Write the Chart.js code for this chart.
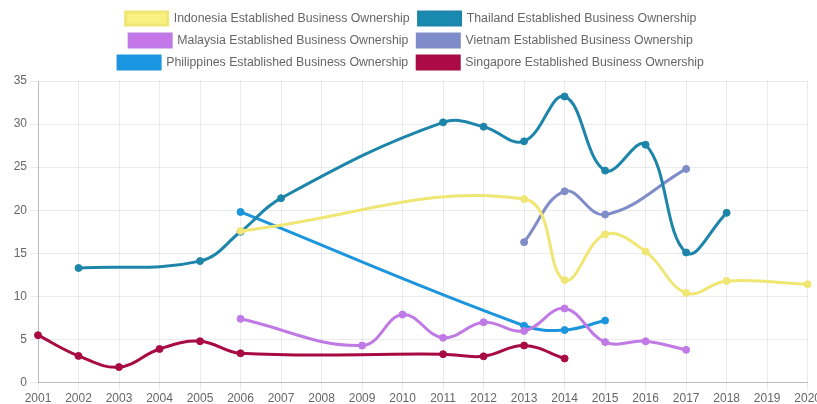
<!DOCTYPE html>
<html>
<head>
<meta charset="utf-8">
<script src="https://cdn.jsdelivr.net/npm/chart.js@4"></script>
<style>
    html, body { margin: 0; padding: 0; background: #fff; overflow: hidden; }
    #wrap { width: 822px; height: 407px; }
</style>
</head>
<body>
<div id="wrap"><canvas id="lineChart"></canvas></div>
<script>
// Established business ownership rate (%) by year
const years = ['2001', '2002', '2003', '2004', '2005', '2006', '2007', '2008', '2009', '2010',
               '2011', '2012', '2013', '2014', '2015', '2016', '2017', '2018', '2019', '2020'];

const indonesia   = [null, null, null, null, null, 17.6, null, null, null, null, null, null, 21.3, 11.9, 17.2, 15.2, 10.4, 11.8, null, 11.4];
const thailand    = [null, 13.3, null, null, 14.1, 17.5, 21.4, null, null, null, 30.2, 29.7, 28.0, 33.2, 24.6, 27.6, 15.1, 19.7, null, null];
const malaysia    = [null, null, null, null, null, 7.4, null, null, 4.3, 7.9, 5.2, 7.0, 6.0, 8.6, 4.7, 4.8, 3.8, null, null, null];
const vietnam     = [null, null, null, null, null, null, null, null, null, null, null, null, 16.3, 22.2, 19.5, null, 24.8, null, null, null];
const philippines = [null, null, null, null, null, 19.8, null, null, null, null, null, null, 6.6, 6.1, 7.2, null, null, null, null, null];
const singapore   = [5.5, 3.1, 1.8, 3.9, 4.8, 3.4, null, null, null, null, 3.3, 3.05, 4.3, 2.8, null, null, null, null, null, null];

Chart.defaults.font.family = '"Helvetica Neue", Helvetica, Arial, "Liberation Sans", sans-serif';
Chart.defaults.font.size = 12;
Chart.defaults.color = '#666';

function series(label, data, fill, line) {
    return {
        label: label,
        data: data,
        backgroundColor: fill,
        borderColor: line,
        pointBackgroundColor: line,
        pointBorderColor: line,
        borderWidth: 3,
        pointRadius: 3.5,
        pointBorderWidth: 1,
        tension: 0.4,
        spanGaps: true,
        fill: false
    };
}

// a bit more room under the legend
const legendGap = {
    id: 'legendGap',
    beforeInit(chart) {
        const fit = chart.legend.fit;
        chart.legend.fit = function () {
            fit.bind(chart.legend)();
            this.height += 2;
        };
    }
};

document.addEventListener('DOMContentLoaded', () => {
    const ctx = document.getElementById('lineChart').getContext('2d');
    new Chart(ctx, {
        type: 'line',
        data: {
            labels: years,
            datasets: [
                series('Indonesia Established Business Ownership', indonesia, '#f8f080', '#f0e674'),
                series('Thailand Established Business Ownership', thailand, '#1a8bb0', '#1c85a9'),
                series('Malaysia Established Business Ownership', malaysia, '#c577ea', '#c07ae6'),
                series('Vietnam Established Business Ownership', vietnam, '#7f8ccc', '#7f8cc8'),
                series('Philippines Established Business Ownership', philippines, '#1a96e2', '#1b95dd'),
                series('Singapore Established Business Ownership', singapore, '#ae0a47', '#a80a42')
            ]
        },
        options: {
            responsive: true,
            maintainAspectRatio: false,
            animation: false,
            layout: { padding: { top: 3 } },
            plugins: {
                legend: {
                    display: true,
                    labels: {
                        boxWidth: 42,
                        boxHeight: 13,
                        padding: 9,
                        font: { size: 12.3 }
                    }
                },
                tooltip: { enabled: false }
            },
            scales: {
                y: {
                    min: 0,
                    max: 35,
                    ticks: { stepSize: 5 },
                    grid: { color: 'rgba(0,0,0,0.08)' },
                    border: { color: 'rgba(0,0,0,0.2)' },
                    afterFit(scale) { scale.width = 38; }
                },
                x: {
                    ticks: { autoSkip: false, maxRotation: 0, padding: 1 },
                    grid: { color: 'rgba(0,0,0,0.08)' },
                    border: { color: 'rgba(0,0,0,0.2)' }
                }
            }
        },
        plugins: [legendGap]
    });
});
</script>
</body>
</html>
